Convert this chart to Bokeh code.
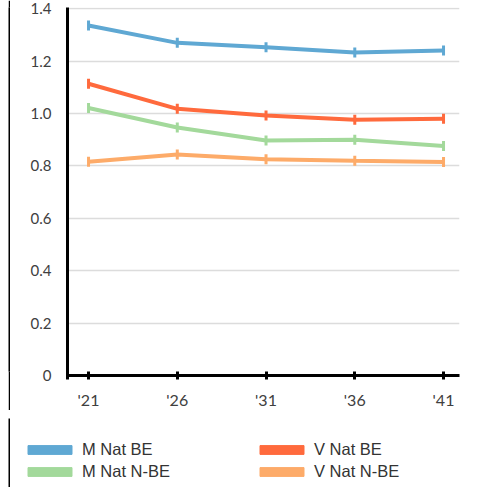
import math
from bokeh.plotting import figure
from bokeh.models import FixedTicker, Legend, LegendItem, ColumnDataSource, Range1d, Spacer
from bokeh.layouts import column, row
from bokeh.embed import file_html
from bokeh.resources import INLINE

years = ["'21", "'26", "'31", "'36", "'41"]
m_nat_be = [1.336, 1.270, 1.253, 1.233, 1.241]
v_nat_be = [1.114, 1.018, 0.993, 0.976, 0.980]
m_nat_nbe = [1.021, 0.947, 0.897, 0.900, 0.876]
v_nat_nbe = [0.816, 0.844, 0.826, 0.820, 0.815]
series_names = ["M Nat BE", "V Nat BE", "M Nat N-BE", "V Nat N-BE"]
colors = ["#5fa8d3", "#ff6a3d", "#a3d99b", "#fdab69"]
y_ticks = [0, 0.2, 0.4, 0.6, 0.8, 1.0, 1.2, 1.4]
y_tick_labels = ["0", "0.2", "0.4", "0.6", "0.8", "1.0", "1.2", "1.4"]

xs = list(range(len(years)))
X_START, X_END = -0.237, 4.18
MAIN_H = 414
LEG_H = 69


def bar_fig(h):
    b = figure(width=2, height=h, output_backend="svg", toolbar_location=None,
               min_border_left=0, min_border_right=0, min_border_top=0, min_border_bottom=0,
               background_fill_color="black", border_fill_color="black")
    b.axis.visible = False
    b.grid.grid_line_color = None
    b.outline_line_color = None
    return b


p = figure(width=469, height=MAIN_H, output_backend="svg", toolbar_location=None,
           x_range=Range1d(X_START, X_END), y_range=Range1d(0, 1.405),
           min_border_left=57, min_border_right=20, min_border_top=7,
           min_border_bottom=MAIN_H - 375)
p.outline_line_color = None

p.xaxis.ticker = FixedTicker(ticks=[X_START] + xs)
overrides = {i: lab for i, lab in enumerate(years)}
overrides[X_START] = ""
p.xaxis.major_label_overrides = overrides
p.xaxis.axis_line_width = 3
p.xaxis.axis_line_color = "black"
p.xaxis.major_tick_line_width = 3
p.xaxis.major_tick_line_color = "black"
p.xaxis.major_tick_in = 4
p.xaxis.major_tick_out = 4
p.xaxis.minor_tick_line_color = None
p.xaxis.major_label_standoff = 10
p.xaxis.major_label_text_font = "Lato"
p.xaxis.major_label_text_font_size = "16px"
p.xaxis.major_label_text_color = "#404040"

p.yaxis.ticker = FixedTicker(ticks=y_ticks)
p.yaxis.major_label_overrides = {t: l for t, l in zip(y_ticks, y_tick_labels)}
p.yaxis.axis_line_width = 3
p.yaxis.axis_line_color = "black"
p.yaxis.major_tick_line_color = None
p.yaxis.minor_tick_line_color = None
p.yaxis.major_label_standoff = 10
p.yaxis.major_label_text_font = "Lato"
p.yaxis.major_label_text_font_size = "15px"
p.yaxis.major_label_text_color = "#404040"

p.xgrid.grid_line_color = None
p.ygrid.ticker = FixedTicker(ticks=y_ticks[1:])
p.ygrid.grid_line_color = "#dcdcdc"
p.ygrid.grid_line_width = 1.5

lf = figure(width=469, height=LEG_H, output_backend="svg", toolbar_location=None,
            x_range=Range1d(0, 1), y_range=Range1d(0, 1),
            min_border_left=0, min_border_right=0, min_border_top=0, min_border_bottom=0)
lf.axis.visible = False
lf.grid.grid_line_color = None
lf.outline_line_color = None

all_series = [m_nat_be, v_nat_be, m_nat_nbe, v_nat_nbe]
items = {}
for name, vals, col in zip(series_names, all_series, colors):
    src = ColumnDataSource(dict(x=xs, y=vals))
    p.line("x", "y", source=src, line_color=col, line_width=4)
    p.scatter("x", "y", source=src, marker="dash", angle=math.pi / 2, size=10,
              line_color=col, line_width=3)
    # legend-only swatch, placed outside the visible range of the legend panel
    dummy = lf.quad(left=[5], right=[6], top=[6], bottom=[5], fill_color=col, line_color=col)
    items[name] = LegendItem(label=name, renderers=[dummy])

legend = Legend(items=[items["M Nat BE"], items["M Nat N-BE"], items["V Nat BE"], items["V Nat N-BE"]],
                ncols=2, location=(12, 6), orientation="vertical",
                glyph_width=55, glyph_height=11, label_standoff=5,
                label_width=170, label_height=20, spacing=2, padding=0, margin=0,
                border_line_color=None, background_fill_alpha=0,
                label_text_font="Liberation Sans", label_text_font_size="16.5px",
                label_text_color="#333333")
lf.add_layout(legend, "center")

layout = column(row(Spacer(width=8, height=MAIN_H), bar_fig(MAIN_H - 4), p, spacing=0),
                row(Spacer(width=8, height=LEG_H), bar_fig(LEG_H), lf, spacing=0),
                spacing=487 - MAIN_H - LEG_H)

open("out.html", "w").write(file_html(layout, INLINE))
